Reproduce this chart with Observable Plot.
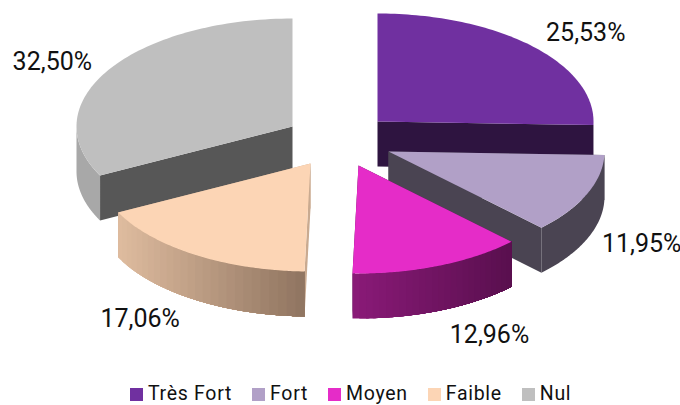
<!DOCTYPE html>
<html><head><meta charset="utf-8">
<script src="https://cdn.jsdelivr.net/npm/d3@7"></script>
<script src="https://cdn.jsdelivr.net/npm/@observablehq/plot@0.6"></script>
<style>
html,body{margin:0;padding:0;background:#fff;overflow:hidden}
#legend{display:flex;justify-content:flex-start;padding-left:130px;height:23px;line-height:23px;align-items:center;font-family:Roboto,sans-serif;font-size:19.5px;letter-spacing:.7px;color:#111}
#legend span.i{display:flex;align-items:center;gap:5px;margin-right:20px}
#legend i{display:block;width:13px;height:13px;position:relative;top:1px}
</style></head><body><div id="chart"></div><div id="legend"></div>
<script>
// Data
const categories = ["Très Fort", "Fort", "Moyen", "Faible", "Nul"];
const shares = [25.53, 11.95, 12.96, 17.06, 32.50];
const labels = ["25,53%", "11,95%", "12,96%", "17,06%", "32,50%"];
// Colours
const topColors = ["#7030a0", "#b1a0c7", "#e52cc8", "#fcd5b5", "#bfbfbf"];
const wallLeft  = ["#2e1440", "#4a4452", "#8a1a78", "#dfbc9f", "#a8a8a8"];
const wallRight = ["#2e1440", "#4a4452", "#590f4e", "#8f7460", "#a8a8a8"];
const innerColors = ["#2e1440", "#4a4452", "#590f4e", "#c9aa90", "#575757"];
// 3-D layout: ellipse, depth and exploded position of each slice
const W = 680, H = 382, rx = 216, ry = 108, depth = 45;
const apexX = [377, 388, 358, 310, 292];
const apexY = [121, 151, 165, 163, 126];
const labelDx = [53, 55, 51, -55, -56];
const labelDy = [-13, 50, 69, 64, -8];
const drawOrder = [0, 4, 1, 3, 2];

const total = d3.sum(shares);
let acc = 0;
const slices = shares.map((v, i) => {
  const a0 = acc / total * 2 * Math.PI; acc += v;
  return {i, a0, a1: acc / total * 2 * Math.PI, cx: apexX[i], cy: apexY[i]};
});
const rim = (s, a, z = 0) => ({x: s.cx + rx * Math.sin(a), y: s.cy - ry * Math.cos(a) + z});
const arc = (s, a0, a1, z = 0, n = 80) => d3.range(n + 1).map(k => rim(s, a0 + (a1 - a0) * k / n, z));
const poly = (pts, fill) => Plot.line(pts, {x: "x", y: "y", fill, stroke: "none", curve: "linear-closed"});
const apex = (s, z = 0) => ({x: s.cx, y: s.cy + z});
const band = (s, a, b) => [...arc(s, a, b), ...arc(s, a, b, depth).reverse()];

const marks = [];
for (const idx of drawOrder) {
  const s = slices[idx];
  // flat cut walls
  for (const a of [s.a0, s.a1]) {
    marks.push(poly([apex(s), rim(s, a), rim(s, a, depth), apex(s, depth)], innerColors[idx]));
  }
  // outer wall, only the part turned toward the viewer; shaded walls are painted
  // as overlapping bands so that no seam shows between them
  const lo = Math.max(s.a0, Math.PI / 2), hi = Math.min(s.a1, 3 * Math.PI / 2);
  if (hi > lo) {
    const shaded = wallLeft[idx] !== wallRight[idx];
    const n = shaded ? 26 : 1, col = d3.interpolateRgb(wallLeft[idx], wallRight[idx]);
    const x0 = rim(s, hi).x, x1 = rim(s, lo).x;
    for (let k = n - 1; k >= 0; k--) {
      const mid = lo + (hi - lo) * (k + 0.5) / n;
      const c = col(Math.min(1, Math.max(0, (rim(s, mid).x - x0) / (x1 - x0))));
      marks.push(poly(band(s, lo, lo + (hi - lo) * (k + 1) / n), c));
    }
  }
  // top face
  marks.push(poly([apex(s), ...arc(s, s.a0, s.a1)], topColors[idx]));
}
// percentage labels anchored at each slice's rim mid-point
slices.forEach(s => {
  const m = rim(s, (s.a0 + s.a1) / 2);
  marks.push(Plot.text([labels[s.i]], {
    x: () => m.x, y: () => m.y, dx: labelDx[s.i], dy: labelDy[s.i], text: d => d,
    fontSize: 25, fontFamily: "Roboto", fill: "#111", textAnchor: "middle", lineAnchor: "middle"
  }));
});

const chart = Plot.plot({
  width: W, height: H, margin: 0, style: {background: "#fff", display: "block"},
  x: {domain: [0, W], range: [0, W], axis: null},
  y: {domain: [0, H], range: [0, H], axis: null},
  marks
});
document.getElementById("chart").append(chart);
document.getElementById("legend").innerHTML = categories.map((c, i) =>
  `<span class="i"><i style="background:${topColors[i]}"></i>${c}</span>`).join("");
</script></body></html>
